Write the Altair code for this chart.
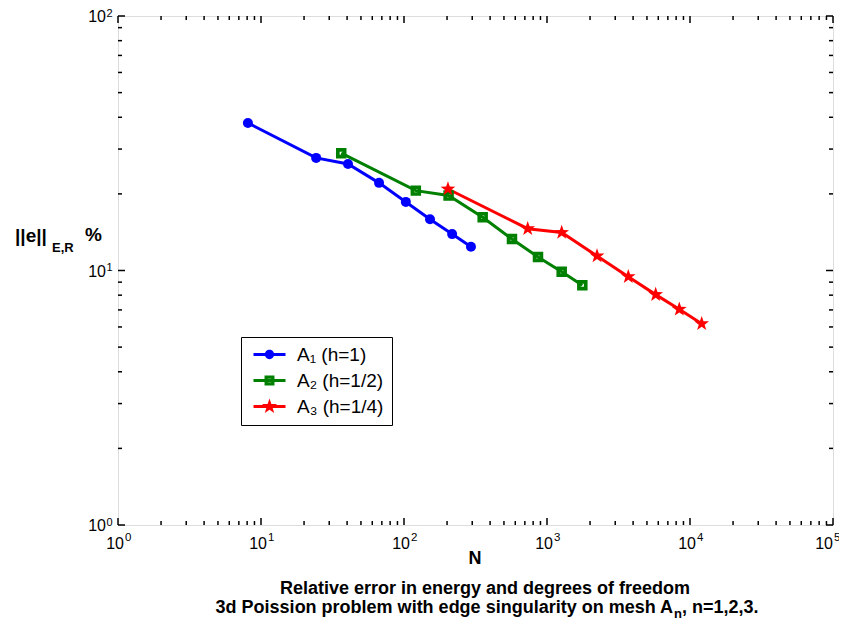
import json
import math
import altair as alt
import pandas as pd

# ---------------- data ----------------
series_names = ["A\u2081 (h=1)", "A\u2082 (h=1/2)", "A\u2083 (h=1/4)"]
colors = ["#0000ff", "#008000", "#ff0000"]

a1_n = [8.1, 24.3, 40.6, 66.9, 103, 152, 217, 294]
a1_err = [38.0, 27.7, 26.2, 22.1, 18.6, 15.9, 13.9, 12.4]

a2_n = [36.4, 121, 205, 355, 569, 865, 1267, 1766]
a2_err = [28.9, 20.6, 19.7, 16.2, 13.3, 11.3, 9.89, 8.75]

a3_n = [203, 733, 1267, 2238, 3703, 5754, 8414, 12070]
a3_err = [20.9, 14.6, 14.1, 11.4, 9.46, 8.04, 7.04, 6.18]

x_major = [1, 10, 100, 1000, 10000, 100000]
x_exp = ["0", "1", "2", "3", "4", "5"]
y_major = [1, 10, 100]
y_exp = ["0", "1", "2"]
x_minor = [k * 10 ** d for d in range(0, 5) for k in range(2, 10)]
y_minor = [k * 10 ** d for d in range(0, 2) for k in range(2, 10)]

x_title = "N"
y_title_main = "||e||"
y_title_sub = "E,R"
y_title_pct = "%"
caption1 = "Relative error in energy and degrees of freedom"
caption2a = "3d Poission problem with edge singularity on mesh A"
caption2b = "n"
caption2c = ", n=1,2,3."

# ---------------- table ----------------
rows = []
for name, ns, es in zip(series_names, [a1_n, a2_n, a3_n], [a1_err, a2_err, a3_err]):
    for i, (n, e) in enumerate(zip(ns, es)):
        rows.append({"series": name, "N": n, "err": e, "order": i})
df = pd.DataFrame(rows)

W, H = 715, 509
FONT = "Liberation Sans"

xscale = alt.Scale(type="log", domain=[1, 100000], nice=False)
yscale = alt.Scale(type="log", domain=[1, 100], nice=False)

# ---------------- marker paths ----------------
def star(ro=1.0, ri=0.4):
    pts = []
    for k in range(10):
        r = ro if k % 2 == 0 else ri
        a = math.radians(-90 + 36 * k)
        pts.append((r * math.cos(a), r * math.sin(a)))
    return "M" + " L".join(f"{x:.4f},{y:.4f}" for x, y in pts) + " Z"

def ring(o, i):
    return (f"M{-o},{-o} L{o},{-o} L{o},{o} L{-o},{o} Z "
            f"M{-i},{-i} L{-i},{i} L{i},{i} L{i},{-i} Z")

def circ(r):
    return f"M{r},0 A{r},{r} 0 1,1 {-r},0 A{r},{r} 0 1,1 {r},0 Z"

line_rect = "M-2,-0.1875 L2,-0.1875 L2,0.1875 L-2,0.1875 Z "
leg_paths = [
    line_rect + circ(0.58),
    line_rect + ring(0.62, 0.22),
    line_rect + star(1.0, 0.4),
]
pt_shapes = ["circle", ring(1.0, 0.3), star(1.0, 0.4)]
pt_sizes = [100, 110, 240]

legend = alt.Legend(
    title=None,
    orient="none",
    legendX=123,
    legendY=321,
    strokeColor="black",
    fillColor="white",
    padding=8,
    labelFont=FONT,
    labelFontSize=19,
    labelColor="black",
    labelOffset=18,
    rowPadding=6,
    symbolSize=256,
    symbolOffset=11,
    symbolStrokeWidth=0,
    symbolOpacity=1,
)

base = alt.Chart(df)

no_axis = alt.Axis(labels=False, ticks=False, domain=False, grid=False, title=None)

lines = base.mark_line(strokeWidth=3).encode(
    x=alt.X("N:Q", scale=xscale, axis=no_axis),
    y=alt.Y("err:Q", scale=yscale, axis=no_axis),
    stroke=alt.Stroke("series:N", scale=alt.Scale(domain=series_names, range=colors), legend=None),
    order="order:Q",
    detail="series:N",
)

point_layers = []
for name, col, shp, sz in zip(series_names, colors, pt_shapes, pt_sizes):
    point_layers.append(
        base.transform_filter(alt.datum.series == name)
        .mark_point(filled=True, fill=col, shape=shp, size=sz, opacity=1, strokeWidth=0)
        .encode(x=alt.X("N:Q", scale=xscale), y=alt.Y("err:Q", scale=yscale))
    )

legend_layer = base.mark_point(filled=True, strokeWidth=0, opacity=0).encode(
    x=alt.X("N:Q", scale=xscale),
    y=alt.Y("err:Q", scale=yscale),
    color=alt.Color("series:N", scale=alt.Scale(domain=series_names, range=colors), legend=legend),
    shape=alt.Shape("series:N", scale=alt.Scale(domain=series_names, range=leg_paths), legend=legend),
)

# ---------------- inward ticks ----------------
def xticks(vals, length, top):
    d = pd.DataFrame({"v": vals})
    y0 = 0 if top else H
    y1 = length if top else H - length
    return alt.Chart(d).mark_rule(color="black", strokeWidth=1.5).encode(
        x=alt.X("v:Q", scale=xscale), y=alt.value(y0), y2=alt.value(y1))

def yticks(vals, length, left):
    d = pd.DataFrame({"v": vals})
    x0 = 0 if left else W
    x1 = length if left else W - length
    return alt.Chart(d).mark_rule(color="black", strokeWidth=1.5).encode(
        y=alt.Y("v:Q", scale=yscale), x=alt.value(x0), x2=alt.value(x1))

tick_layers = [
    xticks(x_major, 7, True), xticks(x_major, 7, False),
    xticks(x_minor, 4, True), xticks(x_minor, 4, False),
    yticks(y_major, 7, True), yticks(y_major, 7, False),
    yticks(y_minor, 4, True), yticks(y_minor, 4, False),
]

# ---------------- tick labels (10 + superscript exponent) ----------------
xlab = pd.DataFrame({"v": x_major, "e": x_exp, "base": ["10"] * len(x_major)})
ylab = pd.DataFrame({"v": y_major, "e": y_exp, "base": ["10"] * len(y_major)})

def xlabel_layers(filt, shift):
    b = alt.Chart(xlab).transform_filter(filt)
    ten = b.mark_text(font=FONT, fontSize=16, align="right", baseline="alphabetic",
                      dx=6 + shift, color="black").encode(
        x=alt.X("v:Q", scale=xscale), y=alt.value(533), text="base:N")
    ex = b.mark_text(font=FONT, fontSize=11.5, align="left", baseline="alphabetic",
                     dx=7 + shift, color="black").encode(
        x=alt.X("v:Q", scale=xscale), y=alt.value(525), text="e:N")
    return [ten, ex]

x_label_layers = xlabel_layers("datum.v < 50000", 0) + xlabel_layers("datum.v > 50000", -6)

yten = alt.Chart(ylab).mark_text(font=FONT, fontSize=16, align="right", baseline="alphabetic",
                                 dx=-12, dy=6, color="black").encode(
    y=alt.Y("v:Q", scale=yscale), x=alt.value(0), text="base:N")
yex = alt.Chart(ylab).mark_text(font=FONT, fontSize=11, align="left", baseline="alphabetic",
                                dx=-11.5, dy=0.5, color="black").encode(
    y=alt.Y("v:Q", scale=yscale), x=alt.value(0), text="e:N")

# ---------------- texts ----------------
def label(txt, x, y, size, align="left", baseline="alphabetic", bold=True):
    d = pd.DataFrame({"t": [txt]})
    return alt.Chart(d).mark_text(
        font=FONT, fontSize=size, fontWeight="bold" if bold else "normal",
        align=align, baseline=baseline, color="black",
    ).encode(text="t:N", x=alt.value(x), y=alt.value(y))

texts = [
    label(x_title, 357, 548, 18, align="center"),
    label(y_title_main, -103, 226, 19),
    label(y_title_sub, -66, 236, 13),
    label(y_title_pct, -33, 225, 19),
    label(caption1, 367, 578, 18, align="center"),
    label(caption2a, 555, 597, 18, align="right"),
    label(caption2b, 556, 602, 13),
    label(caption2c, 564, 597, 18),
]

chart = alt.layer(legend_layer, *tick_layers, lines, *point_layers,
                  *x_label_layers, yten, yex, *texts).properties(
    width=W, height=H,
    autosize=alt.AutoSizeParams(type="none"),
    padding={"left": 110, "top": 8, "right": 6, "bottom": 96},
).configure_view(stroke="black", strokeWidth=2).configure(background="white")

chart.save("out.html", embed_options={"renderer": "svg", "actions": False})
